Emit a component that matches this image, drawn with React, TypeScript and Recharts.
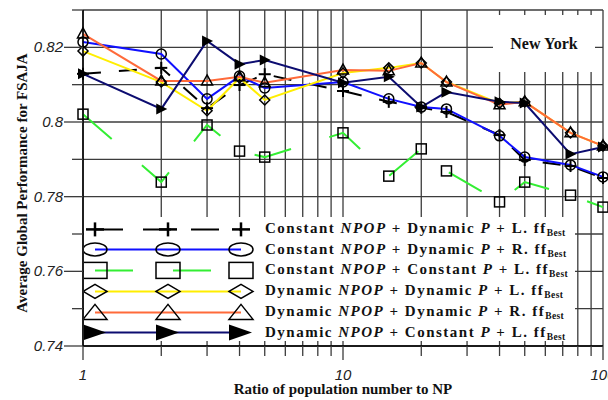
import React from 'react'
import { LineChart, Line, XAxis, YAxis, CartesianGrid, Legend } from 'recharts'

const xValues = [1, 2, 3, 4, 5, 10, 15, 20, 25, 40, 50, 75, 100]
const plusValues = [0.8129, 0.8145, 0.8037, 0.8099, 0.8128, 0.8083, 0.8054, 0.8038, 0.8027, 0.7965, 0.7898, 0.7882, 0.785]
const circleValues = [0.8214, 0.8182, 0.8062, 0.8123, 0.8091, 0.8107, 0.8062, 0.804, 0.8035, 0.7963, 0.7906, 0.7885, 0.7853]
const squareValues = [0.8021, 0.7839, 0.7992, 0.7922, 0.7906, 0.7971, 0.7855, 0.7928, 0.7869, 0.7786, 0.7839, 0.7804, 0.7772]
const diamondValues = [0.819, 0.8107, 0.803, 0.8118, 0.8059, 0.8131, 0.8145, 0.8158, 0.8107, 0.805, 0.8054, 0.7971, 0.7936]
const triangleValues = [0.8236, 0.811, 0.811, 0.8121, 0.8105, 0.8139, 0.8137, 0.8158, 0.8107, 0.8046, 0.8054, 0.7971, 0.7936]
const playValues = [0.8129, 0.8035, 0.8217, 0.8155, 0.8166, 0.8105, 0.8121, 0.804, 0.808, 0.8054, 0.8051, 0.7914, 0.7933]

const xTicks = [1, 2, 3, 4, 5, 6, 7, 8, 9, 10, 20, 30, 40, 50, 60, 70, 80, 90, 100]
const xLabelTicks = [1, 10, 100]
const yTicks = [0.74, 0.75, 0.76, 0.77, 0.78, 0.79, 0.8, 0.81, 0.82, 0.83]
const yLabelTicks = [0.74, 0.76, 0.78, 0.8, 0.82]

const seriesKeys = ['plus', 'circle', 'square', 'diamond', 'triangle', 'play']
const seriesValues = [plusValues, circleValues, squareValues, diamondValues, triangleValues, playValues]
const npopTypes = ['Constant', 'Constant', 'Constant', 'Dynamic', 'Dynamic', 'Dynamic']
const pTypes = ['Dynamic', 'Dynamic', 'Constant', 'Dynamic', 'Dynamic', 'Constant']
const ffTypes = ['L.', 'R.', 'L.', 'L.', 'R.', 'L.']
const seriesColors = ['#000000', '#1010ff', '#33ee33', '#ffee00', '#ff6a3a', '#0c0c70']
const seriesDashes = ['18 18', undefined, '38 40', undefined, undefined, undefined]

const data = xValues.map((x, i) => {
  const row: Record<string, number> = { x }
  seriesKeys.forEach((k, s) => {
    row[k] = seriesValues[s][i]
  })
  return row
})

const serif = '"Liberation Serif", "Times New Roman", serif'
const sans = '"Liberation Sans", Arial, sans-serif'
const gridColor = '#3c3c3c'

function Marker({ shape, cx, cy }: { shape: string; cx: number; cy: number }) {
  const s = { fill: 'none', stroke: '#000', strokeWidth: 1.5 }
  switch (shape) {
    case 'plus':
      return (
        <g stroke="#000" strokeWidth={2}>
          <line x1={cx - 6} x2={cx + 6} y1={cy} y2={cy} />
          <line x1={cx} x2={cx} y1={cy - 6} y2={cy + 6} />
        </g>
      )
    case 'circle':
      return <circle cx={cx} cy={cy} r={5} {...s} />
    case 'square':
      return <rect x={cx - 5} y={cy - 5} width={10} height={10} {...s} />
    case 'diamond':
      return <polygon points={`${cx - 5},${cy} ${cx},${cy - 5} ${cx + 5},${cy} ${cx},${cy + 5}`} {...s} />
    case 'triangle':
      return <polygon points={`${cx},${cy - 6} ${cx + 5.5},${cy + 4} ${cx - 5.5},${cy + 4}`} {...s} />
    default:
      return <polygon points={`${cx - 5},${cy - 5.5} ${cx + 6},${cy} ${cx - 5},${cy + 5.5}`} fill="#000" />
  }
}

function LegendMarker({ shape, cx, cy }: { shape: string; cx: number; cy: number }) {
  const s = { fill: 'none', stroke: '#000', strokeWidth: 1.5 }
  switch (shape) {
    case 'plus':
      return (
        <g stroke="#000" strokeWidth={2.5}>
          <line x1={cx - 9} x2={cx + 9} y1={cy} y2={cy} />
          <line x1={cx} x2={cx} y1={cy - 7} y2={cy + 7} />
        </g>
      )
    case 'circle':
      return <ellipse cx={cx} cy={cy} rx={12} ry={6.5} {...s} />
    case 'square':
      return <rect x={cx - 12} y={cy - 8} width={24} height={16} {...s} />
    case 'diamond':
      return <polygon points={`${cx - 12},${cy} ${cx},${cy - 7} ${cx + 12},${cy} ${cx},${cy + 7}`} {...s} />
    case 'triangle':
      return <polygon points={`${cx},${cy - 8} ${cx + 12},${cy + 7} ${cx - 12},${cy + 7}`} {...s} />
    default:
      return <polygon points={`${cx - 12},${cy - 8} ${cx + 11},${cy} ${cx - 12},${cy + 8}`} fill="#000" />
  }
}

function YTick({ x, y, payload }: any) {
  const v = payload.value as number
  const major = yLabelTicks.some((t) => Math.abs(t - v) < 1e-6)
  return (
    <g>
      <line x1={x - (major ? 19 : 11)} x2={x} y1={y} y2={y} stroke={gridColor} strokeWidth={1.3} />
      {major && (
        <text x={x - 20} y={y} dy={5} textAnchor="end" fontFamily={sans} fontStyle="italic" fontSize={15} fill="#222">
          {String(v)}
        </text>
      )}
    </g>
  )
}

function XTick({ x, y, payload }: any) {
  const v = payload.value as number
  const major = xLabelTicks.includes(v)
  return (
    <g>
      <line x1={x} x2={x} y1={y} y2={y + (major ? 14 : 10)} stroke={gridColor} strokeWidth={1.3} />
      {major && (
        <text x={x} y={y} dy={34} textAnchor="middle" fontFamily={sans} fontStyle="italic" fontSize={15} fill="#222">
          {String(v)}
        </text>
      )}
    </g>
  )
}

function LegendBox() {
  return (
    <div style={{ background: '#fff', width: 491, height: 124, paddingTop: 1.5, boxSizing: 'border-box' }}>
      {seriesKeys.map((k, i) => (
        <div key={k} style={{ display: 'flex', alignItems: 'center', height: 20.8 }}>
          <svg width={181} height={20.8} style={{ flex: 'none' }}>
            <line x1={11} x2={157} y1={10.4} y2={10.4} stroke={seriesColors[i]} strokeWidth={2} strokeDasharray={k === 'plus' ? '28 20' : seriesDashes[i]} />
            {[11, 84, 157].map((cx) => (
              <LegendMarker key={cx} shape={k} cx={cx} cy={10.4} />
            ))}
          </svg>
          <span style={{ fontFamily: serif, fontWeight: 'bold', fontSize: 15, letterSpacing: 1.5, color: '#111', whiteSpace: 'nowrap' }}>
            {npopTypes[i]} <i>NPOP</i> + {pTypes[i]} <i>P</i> + {ffTypes[i]} ff
            <sub style={{ fontSize: 9.5, letterSpacing: 0.4, verticalAlign: -3 }}>Best</sub>
          </span>
        </div>
      ))}
    </div>
  )
}

export default function App() {
  return (
    <div style={{ position: 'absolute', left: 0, top: 0, width: 608, height: 400, background: '#fff' }}>
      <LineChart width={608} height={400} data={data} margin={{ top: 10, right: 5, left: 0, bottom: 0 }}>
        <CartesianGrid stroke={gridColor} strokeWidth={1.3} />
        <XAxis
          dataKey="x"
          type="number"
          scale="log"
          domain={[1, 100]}
          ticks={xTicks}
          interval={0}
          height={54}
          tickSize={0}
          tickMargin={0}
          tick={<XTick />}
          axisLine={{ stroke: '#000', strokeWidth: 1.5 }}
          label={{
            value: 'Ratio of population number to NP',
            position: 'insideBottom',
            offset: 6,
            style: { fontFamily: serif, fontWeight: 'bold', fontSize: 15, fill: '#111' },
          }}
        />
        <YAxis
          type="number"
          domain={[0.74, 0.83]}
          ticks={yTicks}
          interval={0}
          width={83}
          tickSize={0}
          tickMargin={0}
          tick={<YTick />}
          axisLine={{ stroke: '#000', strokeWidth: 1.5 }}
          label={{
            content: () => (
              <text
                x={27}
                y={183}
                transform="rotate(-90 27 183)"
                textAnchor="middle"
                fontFamily={serif}
                fontWeight="bold"
                fontSize={15}
                fill="#111"
              >
                Average Global Performance for FSAJA
              </text>
            ),
          }}
        />
        <Legend
          layout="vertical"
          align="center"
          verticalAlign="middle"
          content={() => <LegendBox />}
          wrapperStyle={{ position: 'absolute', left: 84, top: 217, width: 491, height: 124 }}
        />
        {seriesKeys.map((k, i) => (
          <Line
            key={k}
            dataKey={k}
            name={`${npopTypes[i]} NPOP + ${pTypes[i]} P + ${ffTypes[i]} ffBest`}
            stroke={seriesColors[i]}
            strokeWidth={2}
            strokeDasharray={seriesDashes[i]}
            isAnimationActive={false}
            activeDot={false}
            dot={(p: any) => <Marker key={`${k}-${p.index}`} shape={k} cx={p.cx} cy={p.cy} />}
          />
        ))}
      </LineChart>
      <div
        style={{
          position: 'absolute',
          left: 493,
          top: 15,
          width: 102,
          height: 57,
          background: '#fff',
          display: 'flex',
          alignItems: 'center',
          justifyContent: 'center',
          fontFamily: serif,
          fontWeight: 'bold',
          fontSize: 16,
          color: '#111',
        }}
      >
        New York
      </div>
    </div>
  )
}
